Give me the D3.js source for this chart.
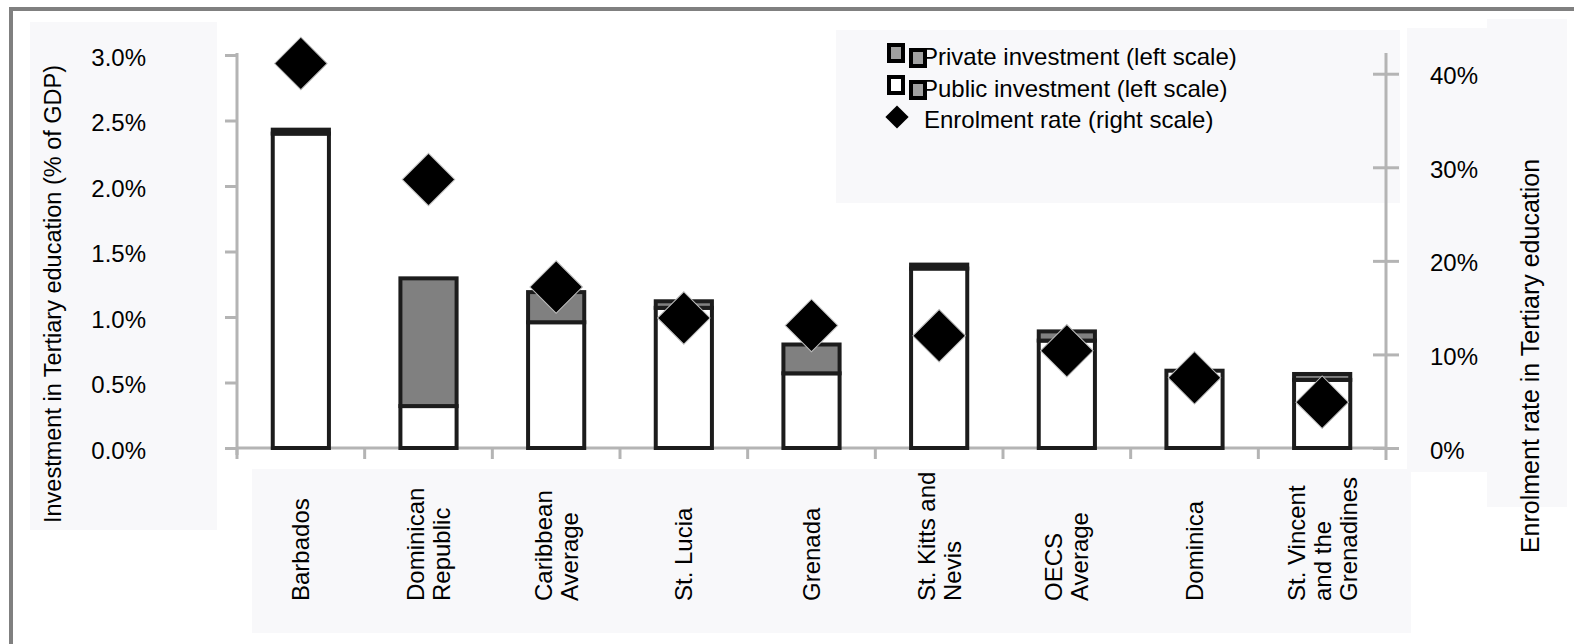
<!DOCTYPE html>
<head>
<meta charset="utf-8">
<style>
body{
    margin:0;
    background:#fff;
}
svg text{
    font-family:Arial, "Liberation Sans", sans-serif;
    fill:#000;
}
</style>
<title>Investment and enrolment in tertiary education</title>
</head>

<body>
<svg id="chart" width="1574" height="644"></svg>
<script src="https://d3js.org/d3.v7.min.js"></script>
<script>
// categories, split in lines like the x labels
var countries = ["Barbados","Dominican Republic","Caribbean Average","St. Lucia","Grenada",
                 "St. Kitts and Nevis","OECS Average","Dominica","St. Vincent and the Grenadines"];
var labelLines = [["Barbados"],["Dominican","Republic"],["Caribbean","Average"],["St. Lucia"],["Grenada"],
                  ["St. Kitts and","Nevis"],["OECS","Average"],["Dominica"],["St. Vincent","and the","Grenadines"]];

// % of GDP (left scale)
var publicInv  = [2.40, 0.32, 0.96, 1.07, 0.57, 1.37, 0.82, 0.59, 0.52];
var privateInv = [0.03, 0.975, 0.23, 0.05, 0.22, 0.03, 0.07, 0.00, 0.045];
// enrolment rate (right scale), %
var enrolment  = [41.1, 28.7, 17.2, 13.9, 13.1, 12.0, 10.4, 7.5, 4.9];

var leftTicks  = [0, 0.5, 1.0, 1.5, 2.0, 2.5, 3.0];
var rightTicks = [0, 10, 20, 30, 40];

var svg = d3.select("#chart");

// frame and the pale boxes behind the texts
svg.append("rect").attr("x",11).attr("y",9).attr("width",1580).attr("height",650)
    .attr("fill","none").attr("stroke","#808080").attr("stroke-width",4);
var panels = [[30,22,187,508],[252,469,1159,164],[1407,28,160,444],[1487,19,80,488],[836,30,564,173]];
panels.forEach(function(p){
    svg.append("rect").attr("x",p[0]).attr("y",p[1]).attr("width",p[2]).attr("height",p[3]).attr("fill","#f8f8fa");
});

var x = d3.scaleBand().domain(countries).range([237,1386]).padding(0);
var yL = d3.scaleLinear().domain([0,3.0]).range([448,55]);
var yR = d3.scaleLinear().domain([0,42]).range([448,55]);
var barW = x.bandwidth()*0.44;
var axisGrey = "#b4b4b4";

// left axis
var gL = svg.append("g").attr("transform","translate(237,0)")
    .call(d3.axisLeft(yL).tickValues(leftTicks).tickSize(12).tickPadding(79)
        .tickFormat(function(d){ return d3.format(".1f")(d)+"%"; }));
gL.select(".domain").remove();
gL.append("line").attr("x1",0).attr("x2",0).attr("y1",yL(3.0)-2).attr("y2",yL(0)+7)
    .attr("stroke",axisGrey).attr("stroke-width",3);
gL.selectAll(".tick line").attr("stroke",axisGrey).attr("stroke-width",3);
gL.selectAll(".tick text").attr("font-size","24px").attr("dy","0.42em");

// right axis
var gR = svg.append("g").attr("transform","translate(1386,0)")
    .call(d3.axisRight(yR).tickValues(rightTicks).tickSize(13).tickPadding(31)
        .tickFormat(function(d){ return d+"%"; }));
gR.select(".domain").remove();
gR.append("line").attr("x1",0).attr("x2",0).attr("y1",yR(42)-2).attr("y2",yR(0)+12)
    .attr("stroke",axisGrey).attr("stroke-width",3);
gR.selectAll(".tick line").attr("x1",-13).attr("stroke",axisGrey).attr("stroke-width",3);
gR.selectAll(".tick text").attr("font-size","24px").attr("dy","0.42em");

// x axis base line and ticks between categories
svg.append("line").attr("x1",237).attr("x2",1386).attr("y1",yL(0)).attr("y2",yL(0))
    .attr("stroke",axisGrey).attr("stroke-width",3);
svg.selectAll(".xtick").data(countries).enter().append("line").attr("class","xtick")
    .attr("x1",function(d){ return x(d); }).attr("x2",function(d){ return x(d); })
    .attr("y1",yL(0)).attr("y2",yL(0)+11)
    .attr("stroke",axisGrey).attr("stroke-width",3);

// bars: public at the bottom, private stacked on top
var bars = svg.selectAll(".bar").data(countries).enter().append("g").attr("class","bar");
bars.append("rect")
    .attr("x",function(d){ return x(d)+(x.bandwidth()-barW)/2; })
    .attr("y",function(d,i){ return yL(publicInv[i]); })
    .attr("width",barW)
    .attr("height",function(d,i){ return yL(0)-yL(publicInv[i]); })
    .attr("fill","#fff").attr("stroke","#1c1c1c").attr("stroke-width",4);
bars.filter(function(d,i){ return privateInv[i]>0; }).append("rect")
    .attr("x",function(d){ return x(d)+(x.bandwidth()-barW)/2; })
    .attr("y",function(d){ var i=countries.indexOf(d); return yL(publicInv[i]+privateInv[i]); })
    .attr("width",barW)
    .attr("height",function(d){ var i=countries.indexOf(d); return yL(publicInv[i])-yL(publicInv[i]+privateInv[i]); })
    .attr("fill","#808080").attr("stroke","#1c1c1c").attr("stroke-width",4);

// enrolment diamonds
var diamond = d3.symbol().type(d3.symbolSquare).size(1380);
svg.selectAll(".dia").data(countries).enter().append("path").attr("class","dia")
    .attr("d",diamond)
    .attr("transform",function(d,i){ return "translate("+(x(d)+x.bandwidth()/2)+","+yR(enrolment[i])+") rotate(45)"; })
    .attr("fill","#000").attr("stroke","#bbb").attr("stroke-width",1);

// x labels, rotated
var xl = svg.selectAll(".xl").data(countries).enter().append("g").attr("class","xl");
xl.each(function(d,i){
    var lines = labelLines[i], n = lines.length, cx = x(d)+x.bandwidth()/2;
    var g = d3.select(this);
    lines.forEach(function(t,k){
        g.append("text")
            .attr("transform","translate("+(cx+(k-(n-1)/2)*26)+",601) rotate(-90)")
            .attr("dy","0.36em").attr("font-size","24px").text(t);
    });
});

// axis titles
svg.append("text").attr("transform","translate(53,294) rotate(-90)")
    .attr("text-anchor","middle").attr("dy","0.36em").attr("font-size","23.5px")
    .text("Investment in Tertiary education (% of GDP)");
svg.append("text").attr("transform","translate(1530,356) rotate(-90)")
    .attr("text-anchor","middle").attr("dy","0.36em").attr("font-size","25px")
    .text("Enrolment rate in Tertiary education");

// legend
var legend = svg.append("g");
var legRows = [{label:"Private investment (left scale)", first:"#a0a0a0", y:65},
               {label:"Public investment (left scale)", first:"#fff", y:97}];
legRows.forEach(function(r){
    legend.append("rect").attr("x",889).attr("y",r.y-20).attr("width",14).attr("height",16)
        .attr("fill",r.first).attr("stroke","#000").attr("stroke-width",4);
    legend.append("rect").attr("x",911).attr("y",r.y-15).attr("width",14).attr("height",16)
        .attr("fill","#a0a0a0").attr("stroke","#000").attr("stroke-width",4);
    legend.append("text").attr("x",922).attr("y",r.y).attr("font-size","24px").text(r.label);
});
legend.append("path").attr("d",d3.symbol().type(d3.symbolSquare).size(270))
    .attr("transform","translate(897,117) rotate(45)").attr("fill","#000");
legend.append("text").attr("x",924).attr("y",128).attr("font-size","24px").text("Enrolment rate (right scale)");
</script>
</body>
